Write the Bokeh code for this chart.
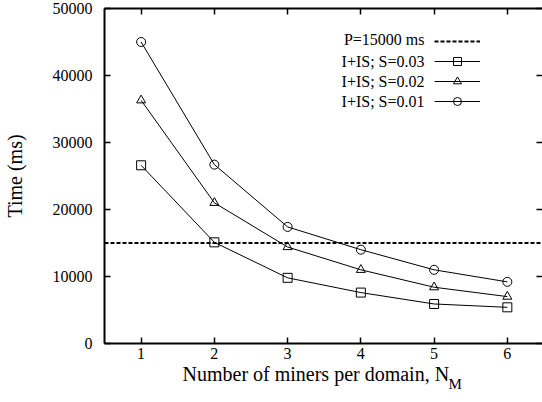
from bokeh.plotting import figure
from bokeh.models import (Range1d, LinearAxis, Legend, LegendItem, Label,
                          FixedTicker)
from bokeh.embed import file_html
from bokeh.resources import INLINE

miners = [1, 2, 3, 4, 5, 6]
s003 = [26600, 15100, 9800, 7600, 5900, 5400]
s002 = [36300, 21000, 14400, 11000, 8400, 7000]
s001 = [45000, 26700, 17400, 14000, 11000, 9200]
period = 15000
x_ticks = [1, 2, 3, 4, 5, 6]
y_ticks = [0, 10000, 20000, 30000, 40000, 50000]
legend_texts = ["P=15000 ms", "I+IS; S=0.03", "I+IS; S=0.02", "I+IS; S=0.01"]

FONT = "Liberation Serif"

p = figure(width=542, height=402, output_backend="svg", toolbar_location=None,
           x_range=Range1d(0.5, 6.48), y_range=Range1d(0, 50000),
           min_border_left=100, min_border_right=0, min_border_top=8,
           min_border_bottom=59)
p.background_fill_color = "white"
p.border_fill_color = "white"
p.outline_line_color = None
p.grid.visible = False

for ax in (p.xaxis[0], p.yaxis[0]):
    ax.axis_line_width = 2
    ax.axis_line_color = "black"
    ax.major_tick_in = 6
    ax.major_tick_out = 0
    ax.minor_tick_line_color = None
    ax.major_tick_line_width = 1.5
    ax.major_label_text_font = FONT
    ax.major_label_text_font_size = "16px"
    ax.major_label_text_color = "black"

p.xaxis[0].ticker = FixedTicker(ticks=x_ticks)
p.yaxis[0].ticker = FixedTicker(ticks=y_ticks)
p.xaxis[0].major_label_standoff = 4
p.yaxis[0].major_label_standoff = 12
p.yaxis[0].axis_label = "Time (ms)"
p.yaxis[0].axis_label_text_font = FONT
p.yaxis[0].axis_label_text_font_size = "20px"
p.yaxis[0].axis_label_text_font_style = "normal"
p.yaxis[0].axis_label_text_color = "black"
p.yaxis[0].axis_label_standoff = 24

top = LinearAxis(ticker=FixedTicker(ticks=x_ticks))
right = LinearAxis(ticker=FixedTicker(ticks=y_ticks))
for ax in (top, right):
    ax.major_tick_in = 6
    ax.major_tick_out = 0
    ax.minor_tick_line_color = None
    ax.major_tick_line_width = 1.5
    ax.major_label_text_font_size = "1px"
    ax.major_label_text_color = None
    ax.major_label_standoff = 0
top.axis_line_width = 2
top.axis_line_color = "black"
right.axis_line_color = None
p.add_layout(top, "above")
p.add_layout(right, "right")

ref = p.line([0.5, 6.48], [period, period], line_color="black", line_width=2,
             line_dash="4 2")

items = [LegendItem(label=" ", renderers=[ref])]
for ys, marker in ((s003, "square"), (s002, "triangle"), (s001, "circle")):
    ln = p.line(miners, ys, line_color="black", line_width=1)
    sc = p.scatter(miners, ys, marker=marker, size=9, fill_color=None,
                   line_color="black", line_width=1)
    items.append(LegendItem(label=" ", renderers=[ln, sc]))

legend = Legend(items=items, location=(330, 232), glyph_width=46,
                glyph_height=20, spacing=0, padding=0, margin=0,
                label_standoff=0, label_text_font_size="1px",
                label_text_color=None,
                background_fill_alpha=0, border_line_color=None)
p.add_layout(legend)

row_y = [304, 282, 262, 242]
for t, yy in zip(legend_texts, row_y):
    p.add_layout(Label(x=320, y=yy, x_units="screen", y_units="screen",
                       text=t, text_align="right", text_baseline="middle",
                       text_font=FONT, text_font_size="16px",
                       text_color="black"))

p.add_layout(Label(x=78, y=10, x_units="screen", y_units="screen",
                   text="Number of miners per domain, N", text_align="left",
                   text_baseline="alphabetic", text_font=FONT,
                   text_font_size="20px", text_color="black"), "below")
p.add_layout(Label(x=344, y=16, x_units="screen", y_units="screen",
                   text="M", text_align="left", text_baseline="alphabetic",
                   text_font=FONT, text_font_size="15px", text_color="black"), "below")

open("out.html", "w").write(file_html(p, INLINE))
